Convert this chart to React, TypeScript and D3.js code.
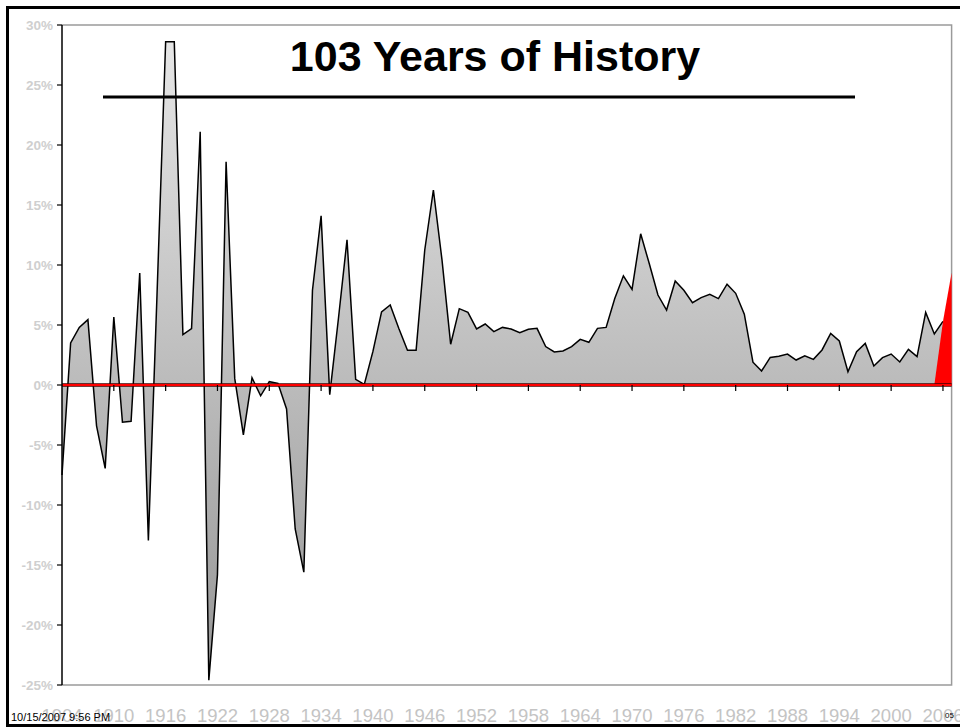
import React from "react";
import * as d3 from "d3";

const startYear = 1904;
const returns: number[] = [
  -7.5, 3.5, 4.8, 5.45, -3.4, -6.95, 5.67, -3.1, -3.03, 9.34,
  -12.95, 7.5, 28.6, 28.6, 4.2, 4.7, 21.1, -24.6, -15.8, 18.6,
  0.55, -4.15, 0.6, -0.9, 0.28, 0.14, -2.0, -12.0, -15.6, 7.9,
  14.1, -0.8, 5.5, 12.1, 0.47, 0.05, 2.8, 6.1, 6.67, 4.7,
  2.9, 2.9, 11.25, 16.25, 10.4, 3.4, 6.36, 6.05, 4.67, 5.08,
  4.45, 4.8, 4.67, 4.36, 4.64, 4.72, 3.2, 2.75, 2.83, 3.2,
  3.8, 3.56, 4.72, 4.8, 7.2, 9.1, 7.97, 12.6, 10.1, 7.5,
  6.25, 8.67, 7.9, 6.86, 7.28, 7.55, 7.2, 8.4, 7.64, 5.9,
  1.9, 1.17, 2.3, 2.4, 2.58, 2.08, 2.44, 2.14, 2.92, 4.3,
  3.67, 1.11, 2.78, 3.47, 1.58, 2.28, 2.58, 1.92, 2.97, 2.36,
  6.05, 4.25, 5.3,
];
const highlightYears: number[] = [2005, 2006, 2007];
const highlightValues: number[] = [0, 5.3, 9.36];
const xTickYears: number[] = d3.range(1904, 2007, 6);
const yTickValues: number[] = d3.range(-25, 31, 5);
const title = "103 Years of History";
const timestamp = "10/15/2007 9:56 PM";
const pageNo = "05";

const FONT = "Arial, 'Liberation Sans', Helvetica, sans-serif";

export default function App() {
  const x = d3.scaleLinear().domain([1904, 2007]).range([62, 951.6]);
  const y = d3.scaleLinear().domain([-25, 30]).range([685, 25]);

  const main = returns.map((v, i) => ({ year: startYear + i, v }));
  const red = highlightYears.map((yr, i) => ({ year: yr, v: highlightValues[i] }));

  const area = d3
    .area<{ year: number; v: number }>()
    .x((d) => x(d.year))
    .y0(y(0))
    .y1((d) => y(d.v));
  const line = d3
    .line<{ year: number; v: number }>()
    .x((d) => x(d.year))
    .y((d) => y(d.v));

  const maxV = d3.max(returns) as number;
  const minV = d3.min(returns) as number;

  return (
    <svg
      width={960}
      height={728}
      style={{ position: "absolute", left: 0, top: 0, background: "#fff" }}
      fontFamily={FONT}
    >
      <defs>
        <linearGradient
          id="gfill"
          gradientUnits="userSpaceOnUse"
          x1={0}
          x2={0}
          y1={y(maxV)}
          y2={y(minV)}
        >
          <stop offset="0%" stopColor="#e6e6e6" />
          <stop offset="100%" stopColor="#969696" />
        </linearGradient>
      </defs>
      <rect x={0} y={0} width={960} height={728} fill="#fff" />
      {/* outer frame */}
      <rect x={7.5} y={7.5} width={970} height={718} fill="none" stroke="#000" strokeWidth={3} />

      {/* plot border */}
      <path
        d={`M${x(1904)},${y(30)}H${x(2007)}V${y(-25)}H${x(1904)}`}
        fill="none"
        stroke="#9a9a9a"
        strokeWidth={1.5}
      />

      {/* main area */}
      <path d={area(main) || ""} fill="url(#gfill)" />
      <path d={line(main) || ""} fill="none" stroke="#000" strokeWidth={1.5} strokeLinejoin="miter" />

      {/* highlight area */}
      <path d={area(red) || ""} fill="#ff0000" />

      {/* zero line */}
      <line x1={x(1904)} x2={x(2007)} y1={y(0)} y2={y(0)} stroke="#400" strokeWidth={3.5} />
      <line x1={x(1904)} x2={x(2007)} y1={y(0)} y2={y(0)} stroke="#ff0000" strokeWidth={2} />
      {xTickYears.slice(1).map((yr) => (
        <line key={yr} x1={x(yr)} x2={x(yr)} y1={y(0)} y2={y(0) + 6} stroke="#000" strokeWidth={1.2} />
      ))}

      {/* y axis */}
      <line x1={x(1904)} x2={x(1904)} y1={y(30)} y2={y(-25)} stroke="#000" strokeWidth={1.5} />
      {yTickValues.map((v) => (
        <g key={v}>
          <line x1={x(1904) - 5} x2={x(1904)} y1={y(v)} y2={y(v)} stroke="#000" strokeWidth={1.2} />
          <text
            x={53}
            y={y(v)}
            dy="0.36em"
            textAnchor="end"
            fontSize={13.5}
            fontWeight="bold"
            fill="#cfcfcf"
          >
            {`${v}%`}
          </text>
        </g>
      ))}

      {/* x labels */}
      {xTickYears.map((yr) => (
        <text
          key={yr}
          x={x(yr)}
          y={722}
          textAnchor="middle"
          fontSize={18.5}
          fill="#c4c4c4"
        >
          {yr}
        </text>
      ))}

      {/* title */}
      <text x={495} y={71} textAnchor="middle" fontSize={43} fontWeight="bold" fill="#000">
        {title}
      </text>
      <line x1={103} x2={855} y1={97} y2={97} stroke="#000" strokeWidth={3} />

      {/* footer texts */}
      <text x={11} y={721} fontSize={11} fill="#000">
        {timestamp}
      </text>
      <text x={945} y={718} fontSize={8} fill="#000">
        {pageNo}
      </text>
    </svg>
  );
}
